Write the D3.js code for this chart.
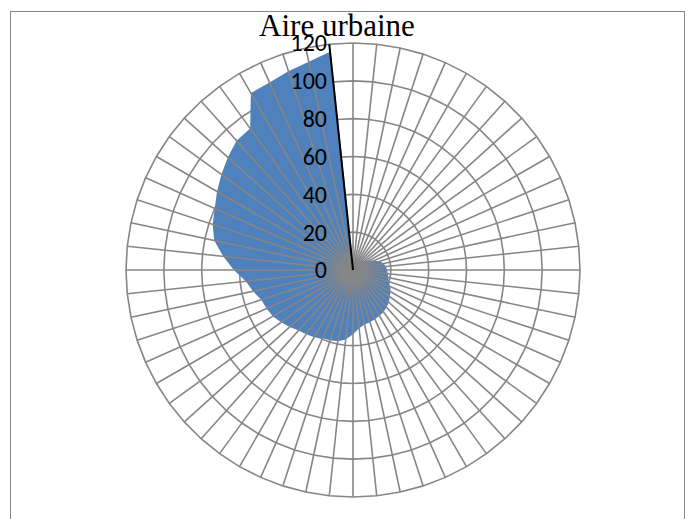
<!DOCTYPE html>
<html>
<head>
<meta charset="utf-8">
<script src="https://cdn.jsdelivr.net/npm/d3@7"></script>
<style>
	body { margin: 0; background: #fff; }
	svg { display: block; }
	.ring, .spoke { fill: none; stroke: #868686; stroke-width: 1.6; }
	.tick { font-family: Carlito, Calibri, "Liberation Sans", sans-serif; font-size: 24px; fill: #000; }
	.title { font-family: "Liberation Serif", "Times New Roman", serif; font-size: 31px; fill: #000; }
</style>
</head>
<body>
<svg width="688" height="519"></svg>
<script>
const title = 'Aire urbaine';

// one value per spoke, clockwise, first one sits on the value axis
const values = [116, 2, 3, 3, 4, 4, 5, 5, 6, 7,
	8, 10, 12, 15, 16.5, 17.5, 18, 18.5, 19, 20,
	21.5, 23, 24, 25.5, 26.5, 27.5, 28, 28.5, 29, 29.5,
	31, 34, 37, 38.5, 39, 39.5, 41, 42, 43, 45,
	47, 49, 50, 51, 54, 57, 63, 69, 75, 78,
	80, 83, 86, 89, 92, 92.5, 108, 108.5, 110.5, 112.5];
const categories = values.map((d, i) => i + 1);
const ticks = [0, 20, 40, 60, 80, 100, 120];

var svg = d3.select("svg");

svg.append("rect")
	.attr("x", 10.5).attr("y", 11.5)
	.attr("width", 674).attr("height", 530)
	.attr("fill", "none")
	.attr("stroke", "#868686")
	.attr("stroke-width", 1);

const cx = 353, cy = 270, R = 227;
const start = -6 * Math.PI / 180;

var r = d3.scaleLinear().domain([0, 120]).range([0, R]);
var angle = d3.scaleBand().domain(categories).range([start, start + 2 * Math.PI]);

const g = svg.append("g").attr("transform", "translate(" + cx + "," + cy + ")");

// rings
ticks.slice(1).forEach(function(t) {
	g.append("path")
		.attr("class", "ring")
		.attr("d", d3.lineRadial()
			.angle(d => angle(d))
			.radius(() => r(t))
			.curve(d3.curveLinearClosed)(categories));
});

// filled series
g.append("path")
	.attr("d", d3.lineRadial()
		.angle((d, i) => angle(categories[i]))
		.radius(d => r(d))
		.curve(d3.curveLinearClosed)(values))
	.attr("fill", "#4f81bd");

// spokes
g.selectAll(".spoke")
	.data(categories)
	.enter()
	.append("line")
	.attr("class", "spoke")
	.attr("x1", 0).attr("y1", 0)
	.attr("x2", d => r(120) * Math.sin(angle(d)))
	.attr("y2", d => -r(120) * Math.cos(angle(d)));

// value axis along the first category
g.append("line")
	.attr("x1", 0).attr("y1", 0)
	.attr("x2", r(120) * Math.sin(angle(categories[0])))
	.attr("y2", -r(120) * Math.cos(angle(categories[0])))
	.attr("stroke", "#000")
	.attr("stroke-width", 2);

g.selectAll(".tick")
	.data(ticks)
	.enter()
	.append("text")
	.attr("class", "tick")
	.attr("x", -26)
	.attr("y", d => -r(d))
	.attr("dy", "0.35em")
	.attr("text-anchor", "end")
	.text(d => d);

svg.append("text")
	.attr("class", "title")
	.attr("x", 337)
	.attr("y", 36)
	.attr("text-anchor", "middle")
	.text(title);
</script>
</body>
</html>
